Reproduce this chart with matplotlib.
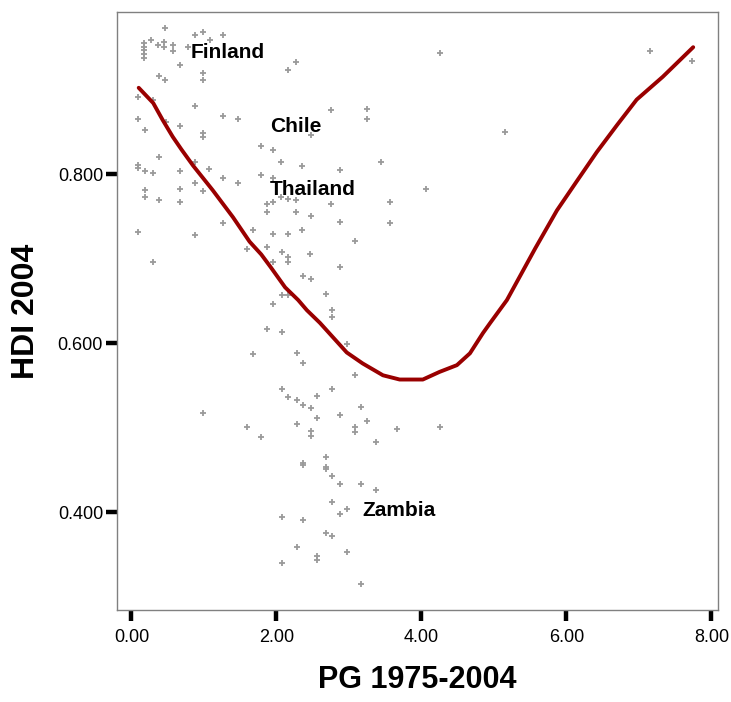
import matplotlib.pyplot as plt

# scatter: population growth 1975-2004 vs HDI 2004
pg = [0.46, 0.17, 0.17, 0.17, 0.17, 0.17, 0.27, 0.37, 0.45, 0.45,
      0.57, 0.57, 0.78, 0.88, 0.99, 1.08, 1.26, 0.67, 0.38, 0.46,
      0.99, 0.99, 0.09, 0.30, 0.88, 0.09, 0.19, 0.48, 0.67, 1.26,
      1.47, 0.99, 0.99, 0.38, 0.09, 0.09, 0.19, 0.30, 0.67, 0.88,
      1.07, 1.26, 1.47, 0.88, 0.99, 0.19, 0.19, 0.38, 0.67, 0.67,
      0.09, 0.88, 1.26, 0.30,
      1.79, 1.95, 2.06, 1.79, 1.95, 2.16, 2.27, 2.48, 2.35, 2.88,
      3.44, 1.87, 1.87, 1.95, 2.06, 2.16, 2.27, 2.27, 2.48, 2.75,
      3.57, 3.57, 2.88, 2.35, 1.68, 1.95, 2.16, 3.08, 1.59, 1.87,
      2.08, 2.16, 2.16, 1.95, 2.46, 2.88, 2.37, 2.48, 2.68, 2.08,
      2.16, 1.95, 2.77, 2.77, 1.87, 2.08, 2.97, 1.68, 2.28, 2.37,
      3.08, 2.08, 2.16, 2.28, 2.56, 2.77, 2.37, 2.48, 0.99, 2.56,
      2.28, 1.59, 1.79, 2.48, 2.48, 2.88, 3.17, 3.25, 3.08, 3.08,
      3.37, 3.66, 4.25, 2.68, 2.37, 2.37, 2.68, 2.68, 2.77, 2.88,
      3.17, 3.37, 2.77, 2.97, 2.88, 2.08, 2.37, 2.68, 2.77, 2.28,
      2.97, 2.56, 2.56, 2.08, 3.17,
      2.75, 3.25, 3.25, 5.15, 4.25, 4.06, 7.15, 7.73]
hdi = [0.973, 0.955, 0.950, 0.947, 0.942, 0.937, 0.959, 0.953, 0.956, 0.950,
       0.953, 0.946, 0.950, 0.964, 0.968, 0.959, 0.964, 0.929, 0.916, 0.911,
       0.920, 0.911, 0.891, 0.888, 0.880, 0.865, 0.852, 0.862, 0.857, 0.869,
       0.865, 0.849, 0.844, 0.820, 0.811, 0.807, 0.804, 0.801, 0.804, 0.814,
       0.806, 0.795, 0.789, 0.789, 0.780, 0.781, 0.773, 0.769, 0.782, 0.767,
       0.731, 0.728, 0.742, 0.696,
       0.833, 0.828, 0.814, 0.799, 0.795, 0.923, 0.933, 0.846, 0.809, 0.805,
       0.814, 0.764, 0.755, 0.767, 0.773, 0.770, 0.769, 0.755, 0.750, 0.764,
       0.767, 0.742, 0.743, 0.734, 0.734, 0.729, 0.729, 0.721, 0.711, 0.714,
       0.708, 0.702, 0.696, 0.696, 0.705, 0.690, 0.680, 0.676, 0.658, 0.657,
       0.657, 0.646, 0.639, 0.631, 0.617, 0.613, 0.599, 0.587, 0.588, 0.577,
       0.562, 0.546, 0.536, 0.533, 0.537, 0.546, 0.527, 0.523, 0.518, 0.511,
       0.504, 0.501, 0.489, 0.496, 0.490, 0.515, 0.524, 0.508, 0.501, 0.495,
       0.483, 0.498, 0.501, 0.465, 0.458, 0.456, 0.453, 0.451, 0.443, 0.434,
       0.434, 0.426, 0.412, 0.404, 0.398, 0.394, 0.391, 0.375, 0.372, 0.359,
       0.353, 0.348, 0.343, 0.340, 0.315,
       0.876, 0.877, 0.865, 0.850, 0.943, 0.782, 0.946, 0.934]

# loess fit line
fit_x = [0.10, 0.20, 0.30, 0.43, 0.57, 0.69, 0.85, 1.12, 1.40,
         1.63, 1.79, 1.92, 2.12, 2.30, 2.42, 2.60, 2.97, 3.19, 3.47,
         3.70, 4.02, 4.25, 4.49, 4.67, 4.85, 4.95, 5.18, 5.57, 5.87,
         6.14, 6.42, 6.70, 6.97, 7.33, 7.57, 7.75]
fit_y = [0.902, 0.893, 0.884, 0.864, 0.844, 0.829, 0.810, 0.781, 0.749,
         0.720, 0.705, 0.690, 0.666, 0.651, 0.639, 0.624, 0.589, 0.576, 0.562,
         0.557, 0.557, 0.566, 0.574, 0.588, 0.612, 0.624, 0.651, 0.712, 0.757,
         0.791, 0.826, 0.858, 0.888, 0.915, 0.935, 0.950]

countries = ['Finland', 'Chile', 'Thailand', 'Zambia']
label_x = [0.82, 1.91, 1.91, 3.18]
label_y = [0.944, 0.856, 0.782, 0.402]

xticks = [0, 2, 4, 6, 8]
yticks = [0.4, 0.6, 0.8]

plt.rcParams['font.family'] = ['Liberation Sans', 'DejaVu Sans']

fig = plt.figure(figsize=(7.31, 7.02), dpi=100)
ax = fig.add_axes([0.160, 0.131, 0.822, 0.852])

ax.plot(pg, hdi, linestyle='none', marker='+', markersize=4.5,
        markeredgewidth=1.3, color='#9a9a9a')
ax.plot(fit_x, fit_y, color='#990000', linewidth=2.8,
        solid_joinstyle='round', solid_capstyle='round')

for name, lx, ly in zip(countries, label_x, label_y):
    ax.text(lx, ly, name, fontsize=15, fontweight='bold', va='center', ha='left')

ax.set_xlim(-0.2, 8.09)
ax.set_ylim(0.2844, 0.9917)
ax.set_xticks(xticks)
ax.set_xticklabels([f'{v:.2f}' for v in xticks])
ax.set_yticks(yticks)
ax.set_yticklabels([f'{v:.3f}' for v in yticks])
ax.tick_params(axis='both', direction='out', length=8, width=3.2, color='black',
               labelsize=13)
ax.tick_params(axis='y', pad=2)
ax.tick_params(axis='x', pad=6)

for s in ax.spines.values():
    s.set_color('#808080')
    s.set_linewidth(1.0)

ax.set_xlabel('PG 1975-2004', fontsize=22, fontweight='bold', labelpad=13)
ax.set_ylabel('HDI 2004', fontsize=23, fontweight='bold', labelpad=12)

fig.savefig('out.png', dpi=100)
